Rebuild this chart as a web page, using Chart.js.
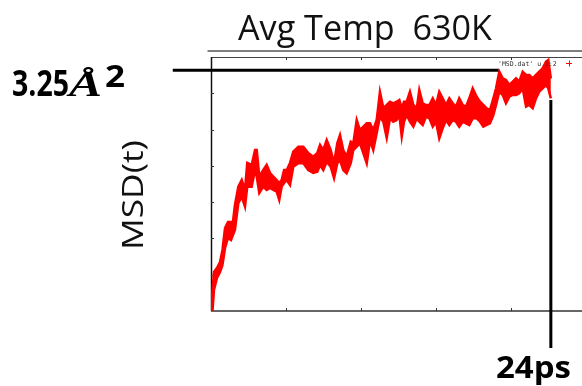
<!DOCTYPE html>
<html>
<head>
<meta charset="utf-8">
<script src="https://cdn.jsdelivr.net/npm/chart.js@4/dist/chart.umd.min.js"></script>
<style>
  html, body { margin: 0; padding: 0; background: #fff; overflow: hidden; }
  #msd { display: block; }
</style>
</head>
<body>
<canvas id="msd" width="582" height="386"></canvas>
<script>
// MSD(t) noise band: time in ps, upper / lower edge of the trace in Å²
const timePs = [
  0, 0.11, 0.21, 0.42, 0.64, 0.81, 0.99, 1.20, 1.41, 1.55, 1.69, 1.93, 2.17, 2.40, 2.56, 2.87,
  3.11, 3.23, 3.41, 3.69, 3.93, 4.17, 4.40, 4.64, 4.82, 4.99, 5.16, 5.35, 5.58, 5.81, 6.17, 6.52,
  6.87, 7.22, 7.51, 7.70, 7.93, 8.17, 8.45, 8.69, 8.92, 9.11, 9.34, 9.58, 9.87, 10.05, 10.29, 10.52,
  10.76, 11.00, 11.23, 11.46, 11.70, 11.93, 12.17, 12.41, 12.64, 12.87, 13.11, 13.30, 13.47, 13.63, 13.82, 14.05,
  14.29, 14.53, 14.71, 14.95, 15.18, 15.42, 15.66, 15.89, 16.12, 16.36, 16.60, 16.83, 17.07, 17.30, 17.53, 17.78,
  18.01, 18.24, 18.48, 18.76, 19.00, 19.23, 19.47, 19.70, 19.94, 20.13, 20.36, 20.60, 20.83, 21.07, 21.31, 21.54,
  21.77, 22.01, 22.25, 22.48, 22.72, 22.95, 23.18, 23.42, 23.66, 23.82, 24.0
];
const msdUpper = [
  0, 0.284, 0.527, 0.581, 0.662, 0.824, 1.121, 1.202, 1.202, 1.202, 1.431, 1.679, 1.769, 1.634, 1.999, 1.972,
  2.174, 2.174, 1.814, 1.904, 1.972, 1.864, 1.814, 1.769, 1.729, 1.769, 1.904, 1.904, 1.999, 2.151, 2.219, 2.219,
  2.134, 2.084, 2.134, 2.242, 2.174, 2.309, 2.174, 1.999, 2.269, 2.377, 2.174, 2.084, 2.286, 2.265, 2.579, 2.444,
  2.489, 2.535, 2.535, 2.444, 2.579, 2.961, 2.741, 2.782, 2.826, 2.805, 2.826, 2.849, 2.737, 2.826, 2.826, 2.961,
  2.782, 2.737, 2.984, 2.805, 2.782, 2.782, 2.872, 2.782, 2.961, 2.872, 2.782, 2.872, 2.805, 2.759, 2.872, 2.782,
  2.759, 2.872, 3.007, 2.894, 2.826, 2.782, 2.737, 2.714, 2.872, 3.007, 3.232, 3.142, 3.119, 3.052, 3.096, 3.142,
  3.096, 3.232, 3.187, 3.187, 3.142, 3.187, 3.232, 3.277, 3.367, 3.389, 3.142
];
const msdLower = [
  0, 0.014, 0.284, 0.446, 0.527, 0.621, 0.851, 0.986, 0.959, 1.026, 1.094, 1.458, 1.543, 1.408, 1.679, 1.679,
  1.904, 1.814, 1.593, 1.679, 1.634, 1.661, 1.634, 1.611, 1.499, 1.679, 1.729, 1.769, 1.702, 1.949, 1.995, 1.995,
  1.904, 1.864, 1.881, 1.972, 1.904, 2.016, 1.949, 1.792, 1.995, 2.039, 1.904, 1.860, 1.995, 2.174, 2.219, 2.265,
  2.130, 1.995, 2.309, 2.174, 2.400, 2.624, 2.556, 2.336, 2.602, 2.556, 2.579, 2.647, 2.354, 2.556, 2.647, 2.556,
  2.489, 2.602, 2.556, 2.512, 2.624, 2.602, 2.489, 2.556, 2.332, 2.467, 2.579, 2.512, 2.579, 2.556, 2.489, 2.556,
  2.535, 2.512, 2.602, 2.602, 2.556, 2.489, 2.512, 2.535, 2.647, 2.782, 2.961, 2.917, 2.805, 2.894, 2.917, 2.917,
  2.940, 3.007, 2.759, 2.782, 2.737, 2.872, 2.961, 3.007, 3.052, 3.007, 2.872
];
const xTicks = [5.3, 10.6, 15.9, 21.2];
const yTicks = [0.49, 0.98, 1.47, 1.96, 2.45, 2.94];

// guide lines
const plateau = 3.25;            // Å²
const plateauFrom = -2.7;        // ps
const plateauTo = 20.3;          // ps
const endTime = 24;              // ps
const endFrom = 2.85;            // Å²
const endTo = -0.5;              // Å²

function fitText(ctx, text, x, y, font, width) {
  ctx.save();
  ctx.font = font;
  const w = ctx.measureText(text).width;
  ctx.translate(x, y);
  ctx.scale(width / w, 1);
  ctx.fillText(text, 0, 0);
  ctx.restore();
}

const frame = {
  id: 'frame',
  beforeDatasetsDraw(chart) {
    const { ctx, chartArea: a, scales: { x, y } } = chart;
    ctx.save();
    // strip above the plot
    ctx.strokeStyle = '#555';
    ctx.lineWidth = 1.6;
    ctx.beginPath();
    ctx.moveTo(a.left - 3.5, a.top - 6);
    ctx.lineTo(chart.width, a.top - 6);
    ctx.stroke();

    ctx.lineWidth = 1;
    ctx.strokeStyle = '#444';
    ctx.beginPath();
    ctx.moveTo(a.left, a.top + 0.5);
    ctx.lineTo(a.right, a.top + 0.5);
    ctx.stroke();

    ctx.lineWidth = 1.5;
    ctx.strokeStyle = '#333';
    ctx.beginPath();
    ctx.moveTo(a.left, a.bottom);
    ctx.lineTo(a.right, a.bottom);
    ctx.stroke();

    ctx.strokeStyle = '#111';
    ctx.beginPath();
    ctx.moveTo(a.left + 0.5, a.top);
    ctx.lineTo(a.left + 0.5, a.bottom);
    ctx.stroke();

    // inward ticks, mirrored on top
    ctx.lineWidth = 1;
    ctx.strokeStyle = '#333';
    ctx.beginPath();
    xTicks.forEach(v => {
      const px = Math.round(x.getPixelForValue(v)) + 0.5;
      ctx.moveTo(px, a.bottom); ctx.lineTo(px, a.bottom - 3);
      ctx.moveTo(px, a.top); ctx.lineTo(px, a.top + 3);
    });
    yTicks.forEach(v => {
      const py = Math.round(y.getPixelForValue(v)) + 0.5;
      ctx.moveTo(a.left, py); ctx.lineTo(a.left + 3, py);
    });
    ctx.stroke();
    ctx.restore();
  },
  afterDatasetsDraw(chart) {
    const { ctx, scales: { x, y } } = chart;
    ctx.save();
    // key
    ctx.fillStyle = '#333';
    ctx.font = '6.5px "DejaVu Sans Mono"';
    ctx.fillText("'MSD.dat' u 1:2", 498, 66);
    ctx.strokeStyle = '#ff0000';
    ctx.lineWidth = 1;
    ctx.beginPath();
    ctx.moveTo(566, 63.5); ctx.lineTo(572, 63.5);
    ctx.moveTo(569.5, 60.5); ctx.lineTo(569.5, 66.5);
    ctx.stroke();

    // plateau and end markers
    ctx.strokeStyle = '#000';
    ctx.lineWidth = 3;
    ctx.beginPath();
    const hy = y.getPixelForValue(plateau);
    ctx.moveTo(x.getPixelForValue(plateauFrom), hy);
    ctx.lineTo(x.getPixelForValue(plateauTo), hy);
    const vx = x.getPixelForValue(endTime);
    ctx.moveTo(vx, y.getPixelForValue(endFrom));
    ctx.lineTo(vx, y.getPixelForValue(endTo));
    ctx.stroke();

    // texts
    ctx.fillStyle = '#111';
    fitText(ctx, 'Avg Temp  630K', 238, 40, '34px "Open Sans"', 254);

    ctx.save();
    ctx.translate(143, 195);
    ctx.rotate(-Math.PI / 2);
    fitText(ctx, 'MSD(t)', -55, 0, '30px "Open Sans"', 110);
    ctx.restore();

    ctx.fillStyle = '#000';
    fitText(ctx, plateau.toFixed(2), 12, 96, 'bold 36px "Open Sans"', 57);
    fitText(ctx, 'Å', 69, 96, 'bold italic 36px "Liberation Serif"', 33);
    fitText(ctx, '2', 105, 87, 'bold 30px "Open Sans"', 20);
    fitText(ctx, endTime + 'ps', 496, 378, 'bold 31px "Open Sans"', 75);
    ctx.restore();
  }
};

new Chart(document.getElementById('msd'), {
  type: 'line',
  data: {
    datasets: [
      {
        data: timePs.map((t, i) => ({ x: t, y: msdUpper[i] })),
        borderColor: '#ff0000',
        borderWidth: 2.5,
        pointRadius: 0,
        tension: 0,
        fill: false
      },
      {
        data: timePs.map((t, i) => ({ x: t, y: msdLower[i] })),
        borderColor: '#ff0000',
        backgroundColor: '#ff0000',
        borderWidth: 2.5,
        pointRadius: 0,
        tension: 0,
        fill: '-1'
      }
    ]
  },
  options: {
    responsive: false,
    animation: false,
    devicePixelRatio: 1,
    layout: { padding: { left: 211, top: 57, right: 0, bottom: 75 } },
    scales: {
      x: { type: 'linear', display: false, min: 0, max: 26.2 },
      y: { type: 'linear', display: false, min: 0, max: 3.43 }
    },
    plugins: { legend: { display: false }, tooltip: { enabled: false }, title: { display: false } }
  },
  plugins: [frame]
});
</script>
</body>
</html>
